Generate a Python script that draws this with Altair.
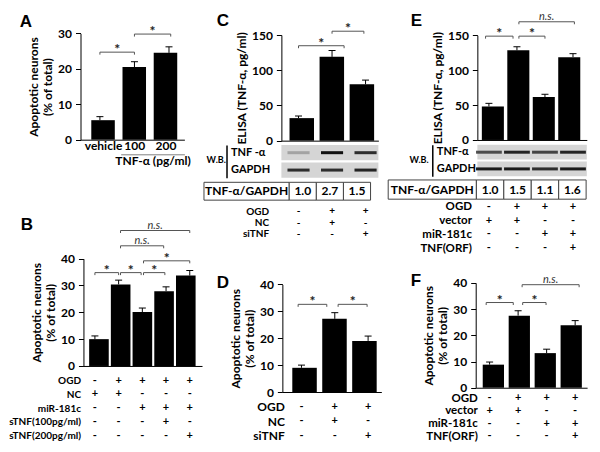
import altair as alt
import pandas as pd

# ---------------- canvas mapping (reference pixels -> chart pixels) ----------------
W, H = 584, 436
XR0, XR1 = 2.0, 598.0
YR0, YR1 = 3.0, 450.0
KX = W / (XR1 - XR0)
KY = H / (YR1 - YR0)


def px(x):
    return (x - XR0) * KX


def py(y):
    return (y - YR0) * KY


FONT = "Lato"
LFONT = "Liberation Sans"
GREY = "#555555"

# ---------------- data ----------------
APOP_TITLE = ["Apoptotic neurons", "(% of total)"]
ELISA_TITLE = "ELISA (TNF-α, pg/ml)"

A_groups = ["vehicle", "100", "200"]
A_mean = [5.5, 20.5, 24.5]
A_err = [1.0, 1.5, 1.7]
A_ticks = [0, 10, 20, 30]
A_sig = [(1.0, 2.0, 24.7, "*"), (2.0, 3.05, 29.8, "*")]
A_group_title = "TNF-α (pg/ml)"

B_mean = [10.0, 30.4, 20.1, 27.9, 33.7]
B_err = [1.2, 1.6, 1.5, 1.6, 1.9]
B_ticks = [0, 10, 20, 30, 40]
B_sig = [(1.0, 2.0, 34.8, "*"), (2.08, 2.95, 34.8, "*"), (3.05, 3.95, 34.8, "*"),
         (3.05, 5.0, 39.2, "*"), (2.08, 3.9, 44.8, "n.s."), (2.08, 5.0, 50.5, "n.s.")]
B_rows = ["OGD", "NC", "miR-181c", "sTNF(100pg/ml)", "sTNF(200pg/ml)"]
B_table = ["-++++", "++---", "--+++", "---+-", "----+"]

C_mean = [32, 119, 80]
C_err = [3, 9, 6]
C_ticks = [0, 50, 100, 150]
C_sig = [(1.0, 2.36, 134.8, "*"), (2.0, 2.95, 155.4, "*")]
C_blot_rows = ["TNF -α", "GAPDH"]
C_blot = [[0.25, 1.0, 0.85], [0.85, 0.85, 0.9]]
C_ratio_head = "TNF-α/GAPDH"
C_ratio = ["1.0", "2.7", "1.5"]
C_rows = ["OGD", "NC", "siTNF"]
C_table = ["-++", "-+-", "--+"]

D_mean = [9.0, 27.2, 19.0]
D_err = [1.0, 2.3, 1.8]
D_ticks = [0, 10, 20, 30, 40]
D_sig = [(0.9, 1.76, 32.6, "*"), (2.1, 2.97, 32.6, "*")]
D_rows = ["OGD", "NC", "siTNF"]
D_table = ["-++", "-+-", "--+"]

E_mean = [48, 128.5, 61.5, 118.7]
E_err = [4.5, 5.0, 4.0, 5.0]
E_ticks = [0, 50, 100, 150]
E_sig = [(0.88, 1.86, 148.8, "*"), (2.07, 3.0, 148.8, "*"), (2.07, 4.05, 169.4, "n.s.")]
E_blot_rows = ["TNF-α", "GAPDH"]
E_blot = [[0.7, 0.9, 0.75, 0.9], [0.95, 0.95, 0.85, 0.95]]
E_ratio_head = "TNF-α/GAPDH"
E_ratio = ["1.0", "1.5", "1.1", "1.6"]
E_rows = ["OGD", "vector", "miR-181c", "TNF(ORF)"]
E_table = ["-+++", "++--", "--++", "---+"]

F_mean = [8.8, 27.5, 13.2, 23.8]
F_err = [1.0, 1.9, 1.5, 1.8]
F_ticks = [0, 10, 20, 30, 40]
F_sig = [(0.88, 1.83, 32.5, "*"), (2.16, 2.98, 32.5, "*"), (2.14, 4.14, 39.3, "n.s.")]
F_rows = ["OGD", "vector", "miR-181c", "TNF(ORF)"]
F_table = ["-+++", "++--", "--++", "---+"]

# ---------------- layout (reference pixels) ----------------
LAY = {
    "A": dict(ax=76, y0=138, ytop=29, c1=95.8, step=35.25, xend=182, bw=24),
    "B": dict(ax=79, y0=370, ytop=260, c1=90.7, step=24.2, xend=200, bw=20,
              rows_y=(385, 441.5), rows_right=76, rows_fs=10, sym_fs=11),
    "C": dict(ax=281, y0=139, ytop=30.7, c1=298.5, step=34.2, xend=380, bw=25,
              rows_y=(211.5, 234.5), rows_right=268, rows_fs=10, sym_fs=10,
              blot_y=(143.5, 177), blot_line=225, wb=(214, 158),
              ratio_box=(202, 289, 372, 181.7, 200), band_hw=0.33),
    "D": dict(ax=282, y0=396.7, ytop=286.4, c1=301.5, step=34, xend=383, bw=25,
              rows_y=(412, 441.5), rows_right=284, rows_fs=12, sym_fs=11),
    "E": dict(ax=481, y0=138.3, ytop=31, c1=492.8, step=28.6, xend=592.7, bw=22.5,
              rows_y=(206.7, 249.3), rows_right=475, rows_fs=11.5, sym_fs=11,
              blot_y=(143.3, 175.5), blot_line=435, wb=(421, 158),
              ratio_box=(390, 480, 592, 179.3, 199), band_hw=0.46),
    "F": dict(ax=479.3, y0=392.3, ytop=284.8, c1=493.5, step=29.1, xend=593, bw=21.7,
              rows_y=(403, 442), rows_right=481, rows_fs=11.5, sym_fs=11),
}

TICK_FS = 12


def xscale(L, n):
    lo = 1 - (L["c1"] - L["ax"]) / L["step"]
    hi = n + (L["xend"] - (L["c1"] + (n - 1) * L["step"])) / L["step"]
    return alt.Scale(domain=[lo, hi], range=[px(L["ax"]), px(L["xend"])], nice=False, zero=False), lo, hi


def yscale(L, ymax):
    return alt.Scale(domain=[0, ymax], range=[py(L["y0"]), py(L["ytop"])], nice=False, zero=False)


def bar_panel(L, mean, err, ticks, sig, ytitle, xlabels=None):
    n = len(mean)
    xs, lo, hi = xscale(L, n)
    ymax = ticks[-1]
    ys = yscale(L, ymax)
    df = pd.DataFrame({"pos": list(range(1, n + 1)), "mean": mean,
                       "top": [m + e for m, e in zip(mean, err)]})
    if xlabels:
        expr = "[" + ",".join("'%s'" % s for s in xlabels) + "][round(datum.value) - 1]"
        xaxis = alt.Axis(orient="bottom", offset=py(L["y0"]) - H, values=list(range(1, n + 1)),
                         labelExpr=expr, ticks=False, labelPadding=1, labelFont=FONT,
                         labelFontSize=TICK_FS, labelFontWeight="bold", labelColor="black",
                         labelFlush=False, labelOverlap=False, domainColor="black",
                         grid=False, title=None)
    else:
        xaxis = alt.Axis(orient="bottom", offset=py(L["y0"]) - H, labels=False, ticks=False,
                         domainColor="black", grid=False, title=None)
    yaxis = alt.Axis(orient="left", offset=-px(L["ax"]), values=ticks, tickSize=5,
                     tickColor="black", labelPadding=4, labelFont=FONT, labelFontSize=TICK_FS,
                     labelFontWeight="bold", labelColor="black", labelFlush=False,
                     labelOverlap=False, domainColor="black", grid=False, title=ytitle,
                     titleFont=FONT, titleFontSize=12, titleFontWeight="bold",
                     titleColor="black", titlePadding=3)
    bars = alt.Chart(df).mark_bar(size=L["bw"] * KX, color="black").encode(
        x=alt.X("pos:Q", scale=xs, axis=xaxis),
        y=alt.Y("mean:Q", scale=ys, axis=yaxis),
        y2=alt.datum(0))
    ebar = alt.Chart(df).mark_rule(color="black", strokeWidth=1).encode(
        x=alt.X("pos:Q", scale=xs, axis=None),
        y=alt.Y("mean:Q", scale=ys, axis=None), y2="top:Q")
    cap = alt.Chart(df).mark_tick(orient="horizontal", size=7, thickness=1, color="black",
                                  opacity=1).encode(
        x=alt.X("pos:Q", scale=xs, axis=None),
        y=alt.Y("top:Q", scale=ys, axis=None))
    layers = [bars, ebar, cap]

    sdf = pd.DataFrame(sig, columns=["x1", "x2", "lvl", "lab"])
    ppu = (py(L["y0"]) - py(L["ytop"])) / ymax
    sdf["mid"] = (sdf["x1"] + sdf["x2"]) / 2
    sdf["drop"] = sdf["lvl"] - 2.5 / ppu
    hline = alt.Chart(sdf).mark_rule(color=GREY, strokeWidth=1).encode(
        x=alt.X("x1:Q", scale=xs, axis=None), x2="x2:Q",
        y=alt.Y("lvl:Q", scale=ys, axis=None))
    dl = alt.Chart(sdf).mark_rule(color=GREY, strokeWidth=1).encode(
        x=alt.X("x1:Q", scale=xs, axis=None),
        y=alt.Y("lvl:Q", scale=ys, axis=None), y2="drop:Q")
    dr = alt.Chart(sdf).mark_rule(color=GREY, strokeWidth=1).encode(
        x=alt.X("x2:Q", scale=xs, axis=None),
        y=alt.Y("lvl:Q", scale=ys, axis=None), y2="drop:Q")
    layers += [hline, dl, dr]
    stars = sdf[sdf["lab"] == "*"]
    if len(stars):
        layers.append(alt.Chart(stars).mark_text(font=FONT, fontSize=14, fontWeight="bold",
                                                 color="#222222", baseline="alphabetic",
                                                 dy=2).encode(
            x=alt.X("mid:Q", scale=xs, axis=None),
            y=alt.Y("lvl:Q", scale=ys, axis=None), text="lab:N"))
    ns = sdf[sdf["lab"] == "n.s."]
    if len(ns):
        layers.append(alt.Chart(ns).mark_text(font=FONT, fontSize=11, fontStyle="italic",
                                              color="#333333", baseline="alphabetic",
                                              dy=-2).encode(
            x=alt.X("mid:Q", scale=xs, axis=None),
            y=alt.Y("lvl:Q", scale=ys, axis=None), text="lab:N"))
    return layers


def cond_layer(L, n, rows, table):
    xs, lo, hi = xscale(L, n)
    recs = [dict(pos=j + 1, row=r, sym=s) for r, line in zip(rows, table) for j, s in enumerate(line)]
    ys = alt.Scale(type="point", domain=rows,
                   range=[py(L["rows_y"][0]), py(L["rows_y"][1])], padding=0)
    axis = alt.Axis(orient="left", offset=-px(L["rows_right"]), ticks=False, tickSize=0,
                    domain=False, labelPadding=0, labelFont=FONT, labelFontSize=L["rows_fs"],
                    labelFontWeight="bold", labelColor="black", grid=False, title=None,
                    labelOverlap=False, labelLimit=0)
    return alt.Chart(pd.DataFrame(recs)).mark_text(font=FONT, fontSize=L["sym_fs"],
                                                   fontWeight="bold", color="black").encode(
        x=alt.X("pos:Q", scale=xs, axis=None),
        y=alt.Y("row:N", scale=ys, axis=axis), text="sym:N")


def blot_layers(L, n, rows, inten):
    xs, lo, hi = xscale(L, n)
    ys = alt.Scale(type="band", domain=rows, range=[py(L["blot_y"][0]), py(L["blot_y"][1])],
                   paddingInner=0.12, paddingOuter=0)
    wx, wy = L["wb"]
    axis = alt.Axis(orient="right", offset=px(L["blot_line"]) - W, ticks=False, tickSize=0,
                    domainColor="black", domainWidth=1.5, labelPadding=4, labelAlign="left",
                    labelFont=FONT, labelFontSize=11, labelFontWeight="bold",
                    labelColor="black", grid=False, title="W.B.", titleAngle=0,
                    titleX=px(wx) - px(L["blot_line"]), titleY=py(wy), titleAlign="center",
                    titleBaseline="middle", titleFont=FONT, titleFontSize=9,
                    titleFontWeight="bold", titleColor="black")
    sdf = pd.DataFrame({"row": rows, "lo": [lo] * len(rows), "hi": [hi] * len(rows)})
    strip = alt.Chart(sdf).mark_rect(color="#d5d5d5").encode(
        x=alt.X("lo:Q", scale=xs, axis=None), x2="hi:Q",
        y=alt.Y("row:N", scale=ys, axis=axis))
    recs = []
    for r, vals in zip(rows, inten):
        for j, v in enumerate(vals):
            recs.append(dict(row=r, b1=j + 1 - L["band_hw"], b2=j + 1 + L["band_hw"], v=v))
    band = alt.Chart(pd.DataFrame(recs)).mark_rule(strokeWidth=3, color="#111111").encode(
        x=alt.X("b1:Q", scale=xs, axis=None), x2="b2:Q",
        y=alt.Y("row:N", scale=ys, axis=None),
        opacity=alt.Opacity("v:Q", scale=None))
    return [strip, band]


def ratio_layers(L, n, head, vals):
    left, div, right, top, bot = L["ratio_box"]
    lw = (div - left) / ((right - div) / n)
    xs = alt.Scale(domain=[-lw, n], range=[px(left), px(right)], nice=False, zero=False)
    ys = alt.Scale(domain=[0, 1], range=[py(bot), py(top)], nice=False, zero=False)
    x1 = [-lw] + list(range(n))
    x2 = [0] + list(range(1, n + 1))
    cells = pd.DataFrame({"x1": x1, "x2": x2, "txt": [head] + list(vals)})
    cells["y1"] = 0.0
    cells["y2"] = 1.0
    cells["mid"] = (cells["x1"] + cells["x2"]) / 2
    cells["ym"] = 0.5
    rect = alt.Chart(cells).mark_rect(fill="white", stroke="#444444", strokeWidth=1).encode(
        x=alt.X("x1:Q", scale=xs, axis=None), x2="x2:Q",
        y=alt.Y("y1:Q", scale=ys, axis=None), y2="y2:Q")
    txt = alt.Chart(cells).mark_text(font=FONT, fontSize=12, fontWeight="bold",
                                     color="black").encode(
        x=alt.X("mid:Q", scale=xs, axis=None),
        y=alt.Y("ym:Q", scale=ys, axis=None), text="txt:N")
    return [rect, txt]


def group_axis(title, xr0, xr1, yr):
    gdf = pd.DataFrame({"g": [0.0, 1.0]})
    gs = alt.Scale(domain=[0, 1], range=[px(xr0), px(xr1)], nice=False, zero=False)
    return alt.Chart(gdf).mark_point(opacity=0).encode(
        x=alt.X("g:Q", scale=gs,
                axis=alt.Axis(orient="bottom", offset=py(yr) - H, ticks=False, labels=False,
                              domainColor="#808080", grid=False, title=title,
                              titleFont=FONT, titleFontSize=12, titleFontWeight="bold",
                              titleColor="black", titlePadding=1)))


def letter(ch, xr, yr):
    return alt.Chart(pd.DataFrame({"t": [ch]})).mark_text(
        font=LFONT, fontSize=17, fontWeight="bold", align="left", baseline="alphabetic",
        color="black").encode(text="t:N", x=alt.value(px(xr)), y=alt.value(py(yr)))


layers = []
# A
layers += bar_panel(LAY["A"], A_mean, A_err, A_ticks, A_sig, APOP_TITLE, xlabels=A_groups)
layers.append(group_axis(A_group_title, 117, 182, 153))
# B
layers += bar_panel(LAY["B"], B_mean, B_err, B_ticks, B_sig, APOP_TITLE)
layers.append(cond_layer(LAY["B"], 5, B_rows, B_table))
# C
layers += bar_panel(LAY["C"], C_mean, C_err, C_ticks, C_sig, ELISA_TITLE)
layers += blot_layers(LAY["C"], 3, C_blot_rows, C_blot)
layers += ratio_layers(LAY["C"], 3, C_ratio_head, C_ratio)
layers.append(cond_layer(LAY["C"], 3, C_rows, C_table))
# D
layers += bar_panel(LAY["D"], D_mean, D_err, D_ticks, D_sig, APOP_TITLE)
layers.append(cond_layer(LAY["D"], 3, D_rows, D_table))
# E
layers += bar_panel(LAY["E"], E_mean, E_err, E_ticks, E_sig, ELISA_TITLE)
layers += blot_layers(LAY["E"], 4, E_blot_rows, E_blot)
layers += ratio_layers(LAY["E"], 4, E_ratio_head, E_ratio)
layers.append(cond_layer(LAY["E"], 4, E_rows, E_table))
# F
layers += bar_panel(LAY["F"], F_mean, F_err, F_ticks, F_sig, APOP_TITLE)
layers.append(cond_layer(LAY["F"], 4, F_rows, F_table))
# panel letters
for ch, xr, yr in [("A", 14, 22), ("B", 15, 231), ("C", 215, 21),
                   ("D", 215, 290), ("E", 413, 21), ("F", 413, 288)]:
    layers.append(letter(ch, xr, yr))

chart = alt.layer(*layers).resolve_scale(
    x="independent", y="independent"
).properties(
    width=W, height=H, autosize=alt.AutoSizeParams(type="none"), padding=0,
    background="white"
).configure_view(stroke=None)

chart.save("out.html", embed_options={"renderer": "svg", "actions": False})
